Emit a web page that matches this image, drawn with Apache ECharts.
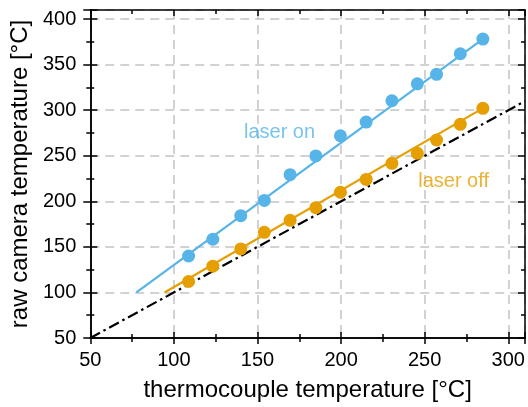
<!DOCTYPE html>
<html>
<head>
<meta charset="utf-8">
<script src="https://cdn.jsdelivr.net/npm/echarts@6/dist/echarts.min.js"></script>
<style>html,body{margin:0;padding:0;background:#fff}#c{width:528px;height:407px}</style>
</head>
<body>
<div id="c"></div>
<script>
// thermocouple temperatures (x) for the measured points
const tcTemps = [108.8, 123.3, 140, 154.1, 169.5, 184.9, 199.6, 215, 230.4, 245.6, 257.1, 271.3, 284.8];
// raw camera readings
const laserOn  = [140, 158.4, 184.3, 201, 229.3, 249.8, 272, 287, 310.4, 329, 339.4, 362, 378.1];
const laserOff = [112, 128.8, 147.8, 166, 179.2, 193, 210, 224, 241.7, 252.7, 267.3, 284.5, 302.1];
// linear fit lines (end points)
const fitOnX = [77.6, 287];   const fitOnY = [100, 381];
const fitOffX = [94.4, 287];  const fitOffY = [100, 304.5];
// identity line y = x
const identX = [50, 310];     const identY = [50, 310];
// annotation labels
const labelTexts = ['laser on', 'laser off'];
const labelPos = [[163.2, 275.3], [267.3, 222]];

const FONT = 'Liberation Sans, Arial, sans-serif';
const BLUE = '#56B4E9', ORANGE = '#E69F00';
const zip = (a, b) => a.map((v, i) => [v, b[i]]);

const axisLine = {show: true, lineStyle: {color: '#000', width: 1.5}};
const fmt = v => (v % 50 === 0 ? String(v) : '');
function xAx(pos, inside, labels, grid) {
  return {
    type: 'value', min: 50, max: 310, interval: 50, position: pos,
    axisLine: axisLine,
    axisTick: {show: true, inside: inside, length: 6, lineStyle: {color: '#000', width: 1.5}},
    minorTick: {show: true, splitNumber: 2, length: 4, lineStyle: {color: '#000', width: 1.5}},
    axisLabel: {show: labels, formatter: fmt, color: '#000', fontSize: 20, fontFamily: FONT, margin: 12},
    splitLine: {show: grid, lineStyle: {color: '#c4c4c4', width: 1.5, type: [9, 6]}},
    name: labels ? 'thermocouple temperature [°C]' : '',
    nameLocation: 'middle', nameGap: 40,
    nameTextStyle: {color: '#000', fontSize: 24, fontFamily: FONT}
  };
}
function yAx(pos, inside, labels, grid) {
  return {
    type: 'value', min: 50, max: 410, interval: 50, position: pos,
    axisLine: axisLine,
    axisTick: {show: true, inside: inside, length: 7, lineStyle: {color: '#000', width: 1.5}},
    minorTick: {show: true, splitNumber: 2, length: 4, lineStyle: {color: '#000', width: 1.5}},
    axisLabel: {show: labels, formatter: fmt, color: '#000', fontSize: 20, fontFamily: FONT, margin: 14},
    splitLine: {show: grid, lineStyle: {color: '#c4c4c4', width: 1.5, type: [9, 6]}},
    name: labels ? 'raw camera temperature [°C]' : '',
    nameLocation: 'middle', nameGap: 44,
    nameTextStyle: {color: '#000', fontSize: 24, fontFamily: FONT}
  };
}

const chart = echarts.init(document.getElementById('c'));
chart.setOption({
  animation: false,
  backgroundColor: '#fff',
  grid: {left: 88, right: 2, top: 10, bottom: 68, containLabel: false},
  xAxis: [xAx('bottom', false, true, true), xAx('bottom', true, false, false), xAx('top', true, false, false)],
  yAxis: [yAx('left', false, true, true), yAx('left', true, false, false), yAx('right', true, false, false)],
  series: [
    {type: 'line', data: zip(identX, identY), symbol: 'none', z: 3,
     lineStyle: {color: '#000', width: 2.2, type: [11, 4, 2.5, 4]}},
    {type: 'line', data: zip(fitOnX, fitOnY), symbol: 'none', z: 3,
     lineStyle: {color: BLUE, width: 2.2}},
    {type: 'line', data: zip(fitOffX, fitOffY), symbol: 'none', z: 3,
     lineStyle: {color: ORANGE, width: 2.2}},
    {type: 'scatter', data: zip(tcTemps, laserOn), symbolSize: 13, z: 4,
     itemStyle: {color: BLUE, opacity: 1}},
    {type: 'scatter', data: zip(tcTemps, laserOff), symbolSize: 13, z: 4,
     itemStyle: {color: ORANGE, opacity: 1}},
    {type: 'scatter', symbolSize: 0, z: 5, silent: true,
     data: labelPos.map((p, i) => ({
       value: p,
       label: {show: true, position: 'inside', formatter: labelTexts[i],
               color: i === 0 ? BLUE : ORANGE, fontSize: 20, fontFamily: FONT}
     }))}
  ]
});
</script>
</body>
</html>
